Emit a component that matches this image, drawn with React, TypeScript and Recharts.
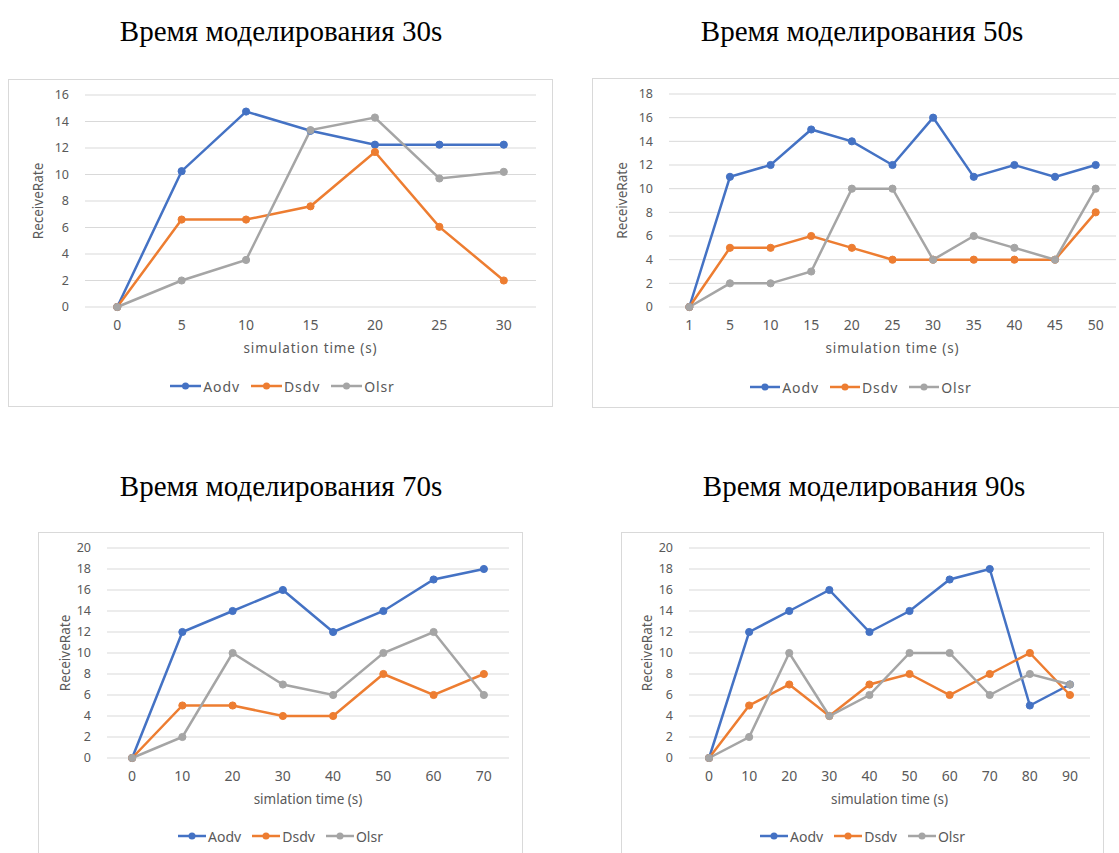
import React from 'react';
import { LineChart, Line, XAxis, YAxis, CartesianGrid, Legend } from 'recharts';

// --- data ---
const times30 = ['0', '5', '10', '15', '20', '25', '30'];
const aodv30 = [0, 10.25, 14.75, 13.3, 12.25, 12.25, 12.25];
const dsdv30 = [0, 6.6, 6.6, 7.6, 11.7, 6.05, 2];
const olsr30 = [0, 2, 3.55, 13.35, 14.3, 9.7, 10.2];

const times50 = ['1', '5', '10', '15', '20', '25', '30', '35', '40', '45', '50'];
const aodv50 = [0, 11, 12, 15, 14, 12, 16, 11, 12, 11, 12];
const dsdv50 = [0, 5, 5, 6, 5, 4, 4, 4, 4, 4, 8];
const olsr50 = [0, 2, 2, 3, 10, 10, 4, 6, 5, 4, 10];

const times70 = ['0', '10', '20', '30', '40', '50', '60', '70'];
const aodv70 = [0, 12, 14, 16, 12, 14, 17, 18];
const dsdv70 = [0, 5, 5, 4, 4, 8, 6, 8];
const olsr70 = [0, 2, 10, 7, 6, 10, 12, 6];

const times90 = ['0', '10', '20', '30', '40', '50', '60', '70', '80', '90'];
const aodv90 = [0, 12, 14, 16, 12, 14, 17, 18, 5, 7];
const dsdv90 = [0, 5, 7, 4, 7, 8, 6, 8, 10, 6];
const olsr90 = [0, 2, 10, 4, 6, 10, 10, 6, 8, 7];

const ticks16 = [0, 2, 4, 6, 8, 10, 12, 14, 16];
const ticks18 = [0, 2, 4, 6, 8, 10, 12, 14, 16, 18];
const ticks20 = [0, 2, 4, 6, 8, 10, 12, 14, 16, 18, 20];

const SERIES = [
  { key: 'Aodv', color: '#4472c4' },
  { key: 'Dsdv', color: '#ed7d31' },
  { key: 'Olsr', color: '#a5a5a5' }
];

const TEXT = '#595959';
const GRID = '#d9d9d9';

interface PanelProps {
  title: string;
  titleX: number;
  titleTop: number;
  left: number;
  top: number;
  width: number;
  height: number;
  yAxisWidth: number;
  margin: { top: number; right: number; bottom: number; left: number };
  xAxisHeight: number;
  legendLeft: number;
  spacing: number;
  iconW: number;
  times: string[];
  aodv: number[];
  dsdv: number[];
  olsr: number[];
  yTicks: number[];
  xLabel: string;
  yLabelOffset: number;
}

function LegendContent({ spacing, iconW }: { spacing: number; iconW: number }) {
  return (
    <div
      style={{
        height: 20,
        display: 'flex',
        justifyContent: 'center',
        alignItems: 'center',
        gap: 11,
        fontSize: 14,
        letterSpacing: spacing,
        color: TEXT
      }}
    >
      {SERIES.map(s => (
        <div key={s.key} style={{ display: 'flex', alignItems: 'center' }}>
          <svg width={iconW} height={10}>
            <line x1={0} y1={5} x2={iconW} y2={5} stroke={s.color} strokeWidth={2.5} />
            <circle cx={iconW / 2} cy={5} r={3.5} fill={s.color} />
          </svg>
          <span style={{ marginLeft: 2 }}>{s.key}</span>
        </div>
      ))}
    </div>
  );
}

function Panel(p: PanelProps) {
  const data = p.times.map((t, i) => ({
    t,
    Aodv: p.aodv[i],
    Dsdv: p.dsdv[i],
    Olsr: p.olsr[i]
  }));
  const chartW = p.width - 2;
  const chartH = p.height - 2;
  const plotW = chartW - p.margin.left - p.margin.right - p.yAxisWidth;
  const pad = plotW / (p.times.length * 2);
  const yMax = p.yTicks[p.yTicks.length - 1];

  return (
    <>
      <div
        style={{
          position: 'absolute',
          left: p.titleX - 250,
          top: p.titleTop,
          width: 500,
          textAlign: 'center',
          fontFamily: '"Liberation Serif", serif',
          fontSize: 29,
          lineHeight: '32px',
          color: '#000'
        }}
      >
        {p.title}
      </div>
      <div
        style={{
          position: 'absolute',
          left: p.left,
          top: p.top,
          width: p.width,
          height: p.height,
          boxSizing: 'border-box',
          border: `1px solid ${GRID}`,
          background: '#fff',
          fontFamily: '"Noto Sans", sans-serif'
        }}
      >
        <LineChart width={chartW} height={chartH} data={data} margin={p.margin}>
          <CartesianGrid vertical={false} stroke={GRID} />
          <XAxis
            dataKey="t"
            interval={0}
            axisLine={false}
            tickLine={false}
            tickMargin={7}
            height={p.xAxisHeight}
            padding={{ left: pad, right: pad }}
            tick={{ fill: TEXT, fontSize: 14 }}
            label={{
              content: ({ viewBox }: any) => (
                <text
                  x={viewBox.x + viewBox.width / 2}
                  y={viewBox.y + 41}
                  textAnchor="middle"
                  dominantBaseline="central"
                  fill={TEXT}
                  fontSize={13.5}
                  letterSpacing={p.spacing}
                >
                  {p.xLabel}
                </text>
              )
            }}
          />
          <YAxis
            width={p.yAxisWidth}
            domain={[0, yMax]}
            ticks={p.yTicks}
            interval={0}
            axisLine={false}
            tickLine={false}
            tickMargin={10}
            tick={{ fill: TEXT, fontSize: 12.5 }}
            label={{
              content: ({ viewBox }: any) => {
                const x = viewBox.x + p.yLabelOffset;
                const y = viewBox.y + viewBox.height / 2;
                return (
                  <text
                    x={x}
                    y={y}
                    transform={`rotate(-90, ${x}, ${y})`}
                    textAnchor="middle"
                    dominantBaseline="central"
                    fill={TEXT}
                    fontSize={13.5}
                  >
                    ReceiveRate
                  </text>
                );
              }
            }}
          />
          <Legend
            verticalAlign="bottom"
            content={<LegendContent spacing={p.spacing} iconW={p.iconW} />}
            wrapperStyle={{ left: p.legendLeft, width: chartW }}
          />
          {SERIES.map(s => (
            <Line
              key={s.key}
              type="linear"
              dataKey={s.key}
              stroke={s.color}
              strokeWidth={2.5}
              dot={{ r: 3.6, fill: s.color, stroke: s.color, strokeWidth: 1 }}
              activeDot={false}
              isAnimationActive={false}
            />
          ))}
        </LineChart>
      </div>
    </>
  );
}

export default function App() {
  return (
    <div style={{ position: 'absolute', left: 0, top: 0, width: 1119, height: 853, background: '#fff', overflow: 'hidden' }}>
      <Panel
        title="Время моделирования 30s"
        titleX={281}
        titleTop={15}
        left={8}
        top={79}
        width={545}
        height={328}
        yAxisWidth={76}
        margin={{ top: 15, right: 16, bottom: 10, left: 0 }}
        xAxisHeight={69}
        legendLeft={2}
        spacing={0.9}
        iconW={31}
        times={times30}
        aodv={aodv30}
        dsdv={dsdv30}
        olsr={olsr30}
        yTicks={ticks16}
        xLabel="simulation time (s)"
        yLabelOffset={28.5}
      />
      <Panel
        title="Время моделирования 50s"
        titleX={862}
        titleTop={15}
        left={592}
        top={78}
        width={530}
        height={330}
        yAxisWidth={76}
        margin={{ top: 15, right: 5, bottom: 10, left: 0 }}
        xAxisHeight={70}
        legendLeft={4}
        spacing={0.9}
        iconW={30}
        times={times50}
        aodv={aodv50}
        dsdv={dsdv50}
        olsr={olsr50}
        yTicks={ticks18}
        xLabel="simulation time (s)"
        yLabelOffset={29}
      />
      <Panel
        title="Время моделирования 70s"
        titleX={281}
        titleTop={470}
        left={38}
        top={532}
        width={485}
        height={330}
        yAxisWidth={68}
        margin={{ top: 15, right: 13, bottom: 15, left: 0 }}
        xAxisHeight={68}
        legendLeft={0}
        spacing={0}
        iconW={28}
        times={times70}
        aodv={aodv70}
        dsdv={dsdv70}
        olsr={olsr70}
        yTicks={ticks20}
        xLabel="simlation time (s)"
        yLabelOffset={26}
      />
      <Panel
        title="Время моделирования 90s"
        titleX={864}
        titleTop={470}
        left={621}
        top={532}
        width={483}
        height={330}
        yAxisWidth={67}
        margin={{ top: 15, right: 13, bottom: 15, left: 0 }}
        xAxisHeight={68}
        legendLeft={0}
        spacing={0}
        iconW={28}
        times={times90}
        aodv={aodv90}
        dsdv={dsdv90}
        olsr={olsr90}
        yTicks={ticks20}
        xLabel="simulation time (s)"
        yLabelOffset={25}
      />
    </div>
  );
}
